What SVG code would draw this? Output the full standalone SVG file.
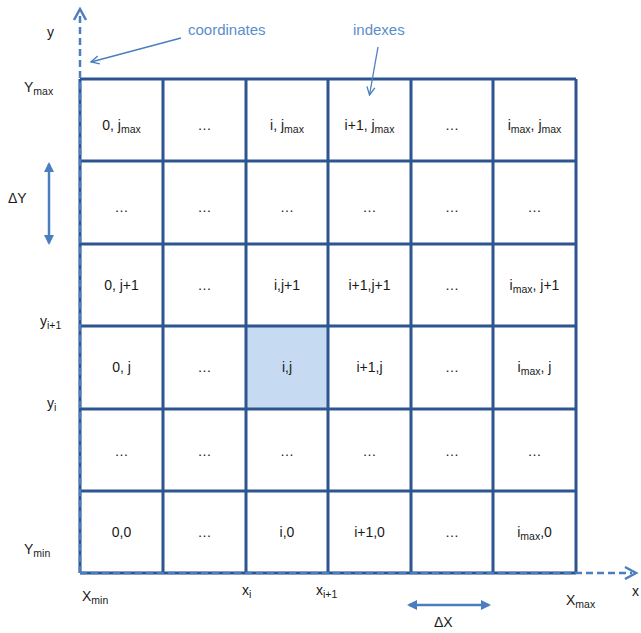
<svg xmlns="http://www.w3.org/2000/svg" width="641" height="633" viewBox="0 0 641 633">
<defs>
<style>
.t{font-family:"Liberation Sans",Arial,sans-serif;font-size:14px;fill:#1a1a1a;text-anchor:middle}
.l{font-family:"Liberation Sans",Arial,sans-serif;font-size:14px;fill:#1a1a1a}
.s{font-size:10.5px}
.b{font-family:"Liberation Sans",Arial,sans-serif;font-size:15px;fill:#5B8DCB}
.grid{stroke:#2D5590;stroke-width:3;fill:none}
.axis{stroke:#4A7EBE;stroke-width:2.5;fill:none;stroke-dasharray:7,4}
.ann{stroke:#4A7EBE;stroke-width:1.3;fill:none}
.dbl{stroke:#4A7EBE;stroke-width:2.5;fill:none}
</style>
<marker id="open" viewBox="0 0 10 10" refX="9" refY="5" markerWidth="10" markerHeight="10" markerUnits="userSpaceOnUse" orient="auto">
<path d="M1,1 L9,5 L1,9" fill="none" stroke="#4A7EBE" stroke-width="1.3"/>
</marker>
<marker id="tri" viewBox="0 0 10 10" refX="8" refY="5" markerWidth="4" markerHeight="4" orient="auto-start-reverse">
<path d="M0,0 L10,5 L0,10 z" fill="#4A7EBE"/>
</marker>
</defs>
<g id="cell-highlight"><rect x="246" y="326" width="82" height="83" fill="#C6DBF2"/></g>
<g id="grid">
<path class="grid" d="M80,79H576M80,161H576M80,244H576M80,326H576M80,409H576M80,491H576M80,573H576M80,79V573M163,79V573M246,79V573M328,79V573M411,79V573M493,79V573M576,79V573"/>
</g>
<g id="connectors">
<path class="axis" d="M80,573V12"/>
<path d="M74,20 L80,9 L86,20" fill="none" stroke="#4A7EBE" stroke-width="2.5"/>
<path class="axis" d="M80,573H632"/>
<path d="M625,567 L636,573 L625,579" fill="none" stroke="#4A7EBE" stroke-width="2.5"/>
<line class="ann" x1="181" y1="38" x2="91" y2="62" marker-end="url(#open)"/>
<line class="ann" x1="378" y1="47" x2="369.5" y2="95" marker-end="url(#open)"/>
<line class="dbl" x1="49" y1="164" x2="49" y2="243" marker-start="url(#tri)" marker-end="url(#tri)"/>
<line class="dbl" x1="409" y1="605" x2="489" y2="605" marker-start="url(#tri)" marker-end="url(#tri)"/>
</g>
<g id="cells">
<text class="t" x="121.5" y="130">0, j<tspan class="s" dy="3">max</tspan></text>
<text class="t" x="204.5" y="130">…</text>
<text class="t" x="287" y="130">i, j<tspan class="s" dy="3">max</tspan></text>
<text class="t" x="369.5" y="130">i+1, j<tspan class="s" dy="3">max</tspan></text>
<text class="t" x="452" y="130">…</text>
<text class="t" x="534.5" y="130">i<tspan class="s" dy="3">max</tspan><tspan dy="-3">, j</tspan><tspan class="s" dy="3">max</tspan></text>
<text class="t" x="121.5" y="212">…</text>
<text class="t" x="204.5" y="212">…</text>
<text class="t" x="287" y="212">…</text>
<text class="t" x="369.5" y="212">…</text>
<text class="t" x="452" y="212">…</text>
<text class="t" x="534.5" y="212">…</text>
<text class="t" x="121.5" y="290">0, j+1</text>
<text class="t" x="204.5" y="290">…</text>
<text class="t" x="287" y="290">i,j+1</text>
<text class="t" x="369.5" y="290">i+1,j+1</text>
<text class="t" x="452" y="290">…</text>
<text class="t" x="534.5" y="290">i<tspan class="s" dy="3">max</tspan><tspan dy="-3">, j+1</tspan></text>
<text class="t" x="121.5" y="372">0, j</text>
<text class="t" x="204.5" y="372">…</text>
<text class="t" x="287" y="372">i,j</text>
<text class="t" x="369.5" y="372">i+1,j</text>
<text class="t" x="452" y="372">…</text>
<text class="t" x="534.5" y="372">i<tspan class="s" dy="3">max</tspan><tspan dy="-3">, j</tspan></text>
<text class="t" x="121.5" y="456">…</text>
<text class="t" x="204.5" y="456">…</text>
<text class="t" x="287" y="456">…</text>
<text class="t" x="369.5" y="456">…</text>
<text class="t" x="452" y="456">…</text>
<text class="t" x="534.5" y="456">…</text>
<text class="t" x="121.5" y="537">0,0</text>
<text class="t" x="204.5" y="537">…</text>
<text class="t" x="287" y="537">i,0</text>
<text class="t" x="369.5" y="537">i+1,0</text>
<text class="t" x="452" y="537">…</text>
<text class="t" x="534.5" y="537">i<tspan class="s" dy="3">max</tspan><tspan dy="-3">,0</tspan></text>
</g>
<g id="labels">
<text class="l" x="47" y="37">y</text>
<text class="l" x="24" y="92">Y<tspan class="s" dy="3">max</tspan></text>
<text class="l" x="8" y="203">ΔY</text>
<text class="l" x="40" y="326">y<tspan class="s" dy="3">i+1</tspan></text>
<text class="l" x="47" y="408">y<tspan class="s" dy="3">i</tspan></text>
<text class="l" x="24" y="554">Y<tspan class="s" dy="3">min</tspan></text>
<text class="l" x="82" y="601">X<tspan class="s" dy="3">min</tspan></text>
<text class="l" x="242" y="595">x<tspan class="s" dy="3">i</tspan></text>
<text class="l" x="316" y="595">x<tspan class="s" dy="3">i+1</tspan></text>
<text class="l" x="566" y="605">X<tspan class="s" dy="3">max</tspan></text>
<text class="l" x="632" y="596">x</text>
<text class="l" x="434" y="627">ΔX</text>
<text class="b" x="188" y="35">coordinates</text>
<text class="b" x="353" y="35">indexes</text>
</g>
</svg>
